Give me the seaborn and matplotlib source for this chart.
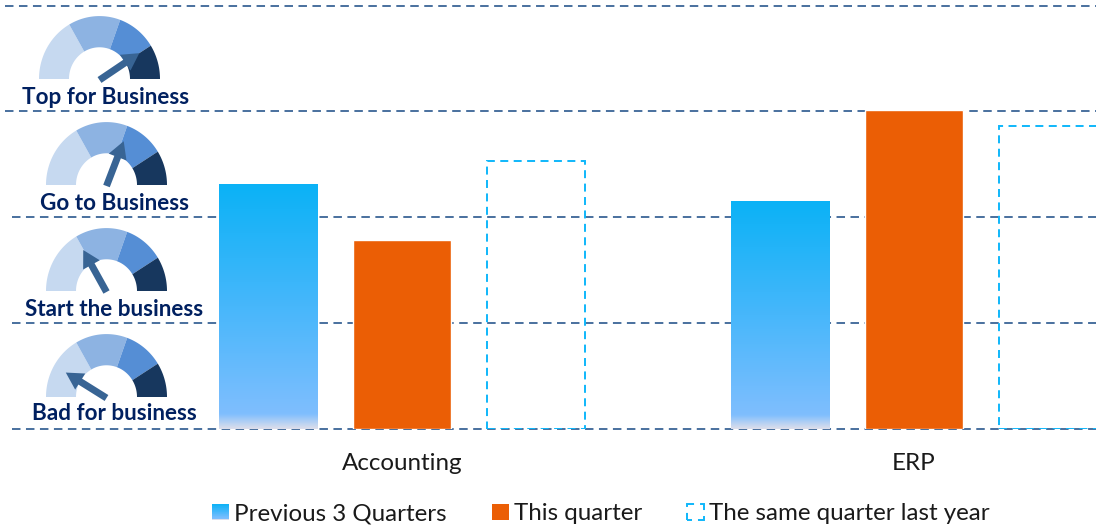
import numpy as np
import pandas as pd
import matplotlib
matplotlib.use("Agg")
import matplotlib.pyplot as plt
import seaborn as sns
from matplotlib.colors import LinearSegmentedColormap
from matplotlib.patches import Polygon, FancyArrow, Rectangle, Patch
from matplotlib.legend_handler import HandlerBase

# ---------- data ----------
categories = ["Accounting", "ERP"]
series_names = ["Previous 3 Quarters", "This quarter", "The same quarter last year"]
previous_3_quarters = [2.31, 2.15]
this_quarter = [1.78, 3.01]
same_quarter_last_year = [2.53, 2.86]
band_levels = [0, 1, 2, 3, 3.99]
gauge_labels = ["Bad for business", "Start the business", "Go to Business", "Top for Business"]
needle_angles = [148, 119, 69, 34]
segment_edges = [180, 120, 70, 32, 0]

# ---------- styles ----------
W, H = 1096, 527
BOTTOM_PX, BAND_PX = 429, 106
FONT = "Lato"
sns.set_style("white")
plt.rcParams["font.family"] = [FONT, "DejaVu Sans"]

LINE = "#3A6496"
ORANGE = "#EB5E05"
CYAN = "#0FB7FA"
NAVY = "#002060"
SEGMENTS = ["#C6D9F0", "#8DB3E2", "#558ED5", "#17375E"]
grad = LinearSegmentedColormap.from_list(
    "bar", [(0, "#0BB2F6"), (0.5, "#47B7FB"), (0.94, "#7FBEFE"), (1, "#DCDEEB")])

df = pd.DataFrame({
    "category": categories * 3,
    "series": np.repeat(series_names, len(categories)),
    "value": previous_3_quarters + this_quarter + same_quarter_last_year,
})

fig = plt.figure(figsize=(W / 100, H / 100), dpi=100, facecolor="white")
ax = fig.add_axes([0, (H - BOTTOM_PX) / H, 1, BOTTOM_PX / H])
ax.patch.set_alpha(0)

sns.barplot(data=df, x="category", y="value", hue="series", order=categories,
            hue_order=series_names, palette=[CYAN, ORANGE, CYAN], width=0.785,
            gap=0.262, legend=False, ax=ax, zorder=3, saturation=1)

XL = (-402 / 512, (W - 402) / 512)
YL = (0, BOTTOM_PX / BAND_PX)
ramp = np.linspace(0, 1, 256).reshape(-1, 1)
for bar in ax.containers[0]:
    x0, y0, bw, bh = bar.get_x(), bar.get_y(), bar.get_width(), bar.get_height()
    bar.set_visible(False)
    ax.imshow(ramp, cmap=grad, aspect="auto", extent=(x0, x0 + bw, y0, y0 + bh),
              zorder=3, origin="upper", interpolation="bilinear")
for bar in ax.containers[2]:
    bar.set(facecolor="none", edgecolor=CYAN, linewidth=1.4, linestyle=(0, (4.1, 2.8)))

ax.set_xlim(*XL)
ax.set_ylim(*YL)
ax.set_xlabel("")
ax.set_ylabel("")
ax.set_yticks([])
ax.tick_params(axis="x", length=0, pad=17, labelsize=17.4, colors="#1a1a1a")
sns.despine(ax=ax, left=True, bottom=True, top=True, right=True)

# dashed level lines
starts = [12, 12, 12, 5, 5]
for lvl, sx in zip(band_levels, starts):
    ax.plot([XL[0] + (XL[1] - XL[0]) * sx / W, XL[1]], [lvl, lvl], color=LINE, lw=1.3,
            linestyle=(0, (4.7, 3.04)), zorder=1, clip_on=False)

# legend
class GradientHandler(HandlerBase):
    def create_artists(self, legend, orig, xd, yd, w, h, fs, trans):
        n = 24
        return [Rectangle((-xd, -yd + h * (n - 1 - i) / n), w, h / n + 0.2,
                          facecolor=grad(i / (n - 1)), edgecolor="none", transform=trans)
                for i in range(n)]

handles = [Patch(label=series_names[0]),
           Patch(facecolor=ORANGE, edgecolor="none", label=series_names[1]),
           Patch(facecolor="none", edgecolor=CYAN, linewidth=1.4,
                 linestyle=(2.57, (5.14, 3.08)), label=series_names[2])]
fig.legend(handles=handles, handler_map={handles[0]: GradientHandler()}, ncols=3,
           loc="center", bbox_to_anchor=(601 / W, 1 - 514 / H), frameon=False,
           fontsize=17.4, handlelength=0.7, handleheight=0.66, handletextpad=0.22,
           columnspacing=1.86, labelcolor="#1a1a1a", borderpad=0, borderaxespad=0)

# gauges on a pixel overlay
ov = fig.add_axes([0, 0, 1, 1])
ov.set_xlim(0, W)
ov.set_ylim(H, 0)
ov.axis("off")
ov.patch.set_alpha(0)

def gauge(cx, base, needle_deg, label, lx, ly):
    ro, ri, squash = 60.5, 30.5, 1.04
    for a0, a1, col in zip(segment_edges[:-1], segment_edges[1:], SEGMENTS):
        t = np.radians(np.linspace(a0, a1, 40))
        xs = np.r_[cx + ro * np.cos(t), cx + ri * np.cos(t[::-1])]
        ys = np.r_[base - squash * ro * np.sin(t), base - squash * ri * np.sin(t[::-1])]
        ov.add_patch(Polygon(np.c_[xs, ys], closed=True, facecolor=col, edgecolor="none"))
    L = 48
    th = np.radians(needle_deg)
    ov.add_patch(FancyArrow(cx, base + 1, L * np.cos(th), -L * np.sin(th), width=7,
                            head_width=19, head_length=17, length_includes_head=True,
                            facecolor="#386494", edgecolor="none", zorder=4))
    ov.text(lx, ly, label, color=NAVY, fontsize=16.2, fontweight="bold", ha="center", va="center")

gauge_cx = [106.5, 106.5, 106.5, 99.5]
gauge_base = [397, 291, 185, 79]
label_x = [114, 114, 114, 106]
label_y = [414, 309, 203, 97]
for i in range(4):
    gauge(gauge_cx[i], gauge_base[i], needle_angles[i], gauge_labels[i], label_x[i], label_y[i])

fig.savefig("out.png", dpi=100)
